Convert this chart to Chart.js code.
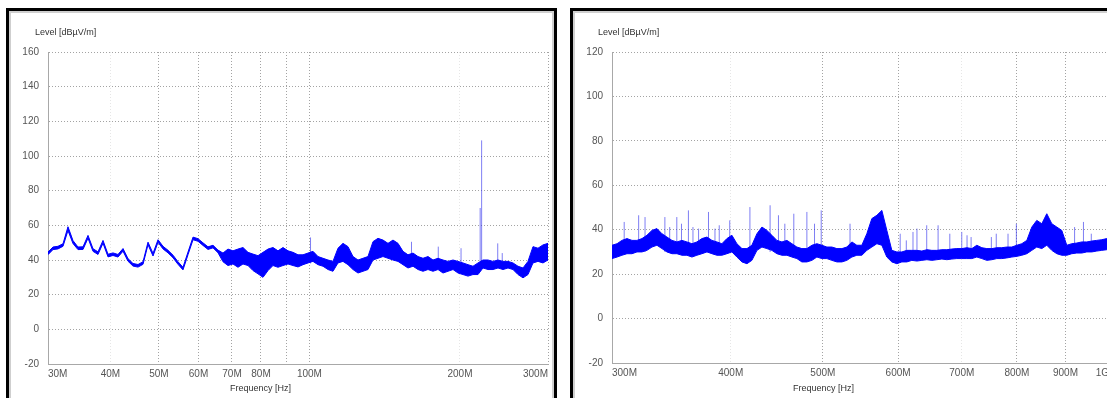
<!DOCTYPE html>
<html>
<head>
<meta charset="utf-8">
<script src="https://cdn.jsdelivr.net/npm/chart.js@4"></script>
<style>
body{margin:0;width:1107px;height:398px;overflow:hidden;background:#fff;font-family:"Liberation Sans",Arial,sans-serif}
.panel{position:absolute;top:8px;height:420px;border:3px solid #000;box-shadow:inset 0 0 0 2px #cfcfcf;background:#fff}
#leftPanel{left:6px;width:545px}
#rightPanel{left:570px;width:600px}
.panel canvas{position:absolute;left:0;top:0}
.lbl{position:absolute;font-size:9px;color:#333;white-space:nowrap;line-height:10px}
</style>
</head>
<body>
<div class="panel" id="leftPanel">
	<canvas id="leftChart" width="545" height="387"></canvas>
	<span class="lbl" style="left:26px;top:16px">Level [dBµV/m]</span>
	<span class="lbl" style="left:221px;top:372px">Frequency [Hz]</span>
</div>
<div class="panel" id="rightPanel">
	<canvas id="rightChart" width="580" height="387"></canvas>
	<span class="lbl" style="left:25px;top:16px">Level [dBµV/m]</span>
	<span class="lbl" style="left:220px;top:372px">Frequency [Hz]</span>
</div>
<script>
//левый график 30M - 300M (частота в МГц)
let leftFreq = [30.0,30.7,31.41,32.15,32.89,33.66,34.44,35.25,36.07,36.91,37.77,38.65,39.55,40.47,41.41,42.38,43.36,44.37,45.41,46.47,
	47.55,48.66,49.79,50.95,52.14,53.35,54.59,55.86,57.17,58.5,59.86,61.25,62.68,64.14,65.63,67.16,68.72,70.32,71.96,73.64,
	75.36,77.11,78.91,80.75,82.63,84.55,86.52,88.53,90.6,92.71,94.87,97.08,99.34,101.65,104.02,106.44,108.92,111.46,114.05,116.71,
	119.43,122.21,125.06,127.97,130.95,134.0,137.12,140.32,143.59,146.93,150.35,153.86,157.44,161.11,164.86,168.7,172.63,176.65,180.77,184.98,
	189.29,193.7,198.21,202.82,207.55,212.38,217.33,222.39,227.57,232.87,238.3,243.85,249.53,255.34,261.29,267.37,273.6,279.97,286.49,293.17,300.0];
//верх и низ полосы шума, dBµV/m
let leftHi = [44.6,47.5,47.9,49.4,59.2,51.2,47.5,47.6,54.2,46.5,44.7,51.3,43.3,44.1,43.2,46.6,40.8,38.0,37.4,39.0,
	50.3,43.8,51.7,47.9,45.6,42.8,39.0,35.8,44.6,53.2,52.3,49.9,47.6,48.5,45.7,44.0,46.3,45.3,46.3,47.2,
	44.4,43.4,42.5,44.4,46.3,47.2,45.3,47.2,45.3,44.4,43.0,43.0,44.0,45.0,42.0,41.0,40.0,39.2,46.8,49.6,
	47.7,42.0,40.0,41.0,42.0,50.6,52.5,51.5,49.6,51.5,49.6,45.0,43.0,44.0,42.0,41.0,42.0,40.0,41.0,40.0,
	39.2,40.0,39.2,38.3,37.3,36.4,38.3,40.0,40.0,39.2,40.0,39.2,39.2,38.3,36.4,35.4,39.2,47.7,46.8,48.7,49.6];
let leftLo = [43.1,46.0,46.4,47.9,57.0,49.5,46.0,46.1,52.6,45.0,43.2,49.7,41.8,42.6,41.7,45.1,39.3,36.5,35.9,37.5,
	48.8,42.3,50.2,46.4,44.1,41.3,37.5,34.3,43.1,51.7,50.8,48.4,46.1,47.0,44.2,39.0,36.8,37.7,35.8,37.7,
	36.8,33.9,32.0,30.0,33.9,36.8,35.8,36.8,37.7,36.8,36.0,37.3,38.3,39.2,37.3,36.4,34.5,33.5,38.3,39.2,
	37.3,34.5,32.5,33.5,34.5,40.0,41.0,42.0,41.0,40.0,39.2,37.3,35.4,36.4,34.5,33.5,34.5,33.5,34.5,32.5,
	33.5,34.5,32.5,31.6,30.7,31.6,31.6,35.4,34.5,34.5,35.4,34.5,35.4,34.5,31.6,29.7,31.6,38.3,39.2,38.3,40.0];
//одиночные выбросы
let leftSpikeFreq = [100.5,160,181,201,219.5,221,238,243];
let leftSpikeTop = [53,50.5,47.7,46.8,70,109,49.6,44];
let leftSpikeFloor = 38;
let leftTicks = [30,40,50,60,70,80,90,100,200,300];
let leftTickLabels = ['30M','40M','50M','60M','70M','80M','','100M','200M','300M'];
let leftFaint = [40,200];

//правый график 300M - 1G
let rightFreq = [300.0,303.7,307.3,311.1,314.9,318.7,322.6,326.5,330.5,334.5,338.6,342.7,346.9,351.1,355.4,359.7,364.1,368.5,373.0,377.6,
	382.2,386.8,391.5,396.3,401.1,406.0,411.0,416.0,421.0,426.2,431.4,436.6,441.9,447.3,452.8,458.3,463.9,469.5,475.2,481.0,
	486.9,492.8,498.8,504.9,511.0,517.3,523.6,529.9,536.4,542.9,549.5,556.2,563.0,569.9,576.8,583.8,590.9,598.1,605.4,612.8,
	620.3,627.9,635.5,643.3,651.1,659.0,667.1,675.2,683.4,691.7,700.1,708.7,717.3,726.0,734.9,743.8,752.9,762.1,771.3,780.7,
	790.2,799.9,809.6,819.5,829.5,839.5,849.8,860.1,870.6,881.2,891.9,902.8,913.8,924.9,936.2,947.6,959.2,970.9,982.7,994.7,1000];
let rightHi = [33.0,33.7,35.2,36.0,35.2,35.2,36.0,37.5,39.7,40.5,38.2,36.7,35.2,34.5,35.2,34.5,33.7,34.5,36.0,36.7,
	35.2,34.5,33.7,36.0,37.5,33.7,31.5,31.5,33.0,38.2,41.2,39.7,37.5,35.2,34.5,35.2,33.7,32.2,31.5,31.5,
	33.0,33.7,33.0,32.2,32.2,31.5,31.5,32.2,34.5,33.0,33.0,38.2,45.0,46.5,48.7,39.7,30.7,30.0,30.0,30.7,
	30.7,30.7,30.4,31.0,30.7,30.7,31.0,31.0,31.3,31.5,31.5,31.9,31.5,33.0,31.9,31.5,31.5,31.9,31.9,32.2,
	32.2,33.0,33.7,35.2,41.2,44.2,42.7,47.2,42.7,41.2,39.7,33.0,33.7,34.0,34.5,34.5,34.9,35.2,35.5,36.0,36.0];
let rightLo = [27.0,27.7,28.5,29.2,29.2,30.0,30.0,30.7,32.2,33.0,31.5,30.0,29.2,29.2,28.5,28.5,27.7,28.5,29.2,30.0,
	29.2,28.5,28.5,29.2,30.0,27.7,25.5,24.7,26.2,30.7,32.2,31.5,30.7,29.2,28.5,28.5,27.7,27.0,25.5,25.5,
	26.2,27.7,27.0,27.0,26.2,25.5,25.5,26.2,27.7,28.5,28.5,30.7,32.2,33.7,33.0,27.7,25.5,24.7,25.5,25.5,
	26.2,25.9,26.2,26.5,26.2,26.5,26.8,26.5,26.8,27.0,27.0,27.0,27.0,27.7,27.0,26.2,26.5,27.0,27.0,27.3,
	27.7,28.0,28.5,29.2,30.7,32.2,31.5,33.0,30.7,29.2,28.5,28.5,29.2,29.5,29.5,30.0,30.0,30.4,30.7,31.0,31.0];
let rightSpikeFreq = [309,320,325,341,345,351,355,361,365,370,379,385,389,399,419,440,449,456,466,481,
	490,498,534,603,612,622,628,643,661,680,700,709,716,752,761,783,799,920,940,958];
let rightSpikeTop = [43.5,46.5,45.7,45.7,41.2,45.7,42.7,48.7,41.2,40.5,48,40.5,42,44.2,50.2,51,46.5,42.7,47.2,48,
	42.7,48.7,42.7,38.2,35.2,39,40.5,42,42,38.2,39,37.5,36.7,36.7,38.2,38.2,42.7,41.2,43.5,38.2];
let rightSpikeFloor = 30;
let rightTicks = [300,400,500,600,700,800,900,1000];
let rightTickLabels = ['300M','400M','500M','600M','700M','800M','900M','1G'];
let rightFaint = [400,700];

function toPoints(xs, ys) {
	return xs.map(function (x, i) { return {x: x, y: ys[i]}; });
}

//каждый выброс - вертикальный отрезок, null разрывает линию
function spikePoints(xs, tops, floor) {
	let pts = [];
	xs.forEach(function (x, i) {
		pts.push({x: x, y: floor}, {x: x, y: tops[i]}, {x: x, y: null});
	});
	return pts;
}

function makeChart(id, s) {
	let tickFont = {family: 'Liberation Sans', size: 10};
	return new Chart(document.getElementById(id), {
		type: 'line',
		data: {
			datasets: [
				{data: toPoints(s.freq, s.hi), borderColor: '#0000ff', borderWidth: 1, pointRadius: 0, fill: false},
				{data: toPoints(s.freq, s.lo), borderColor: '#0000ff', borderWidth: 1, pointRadius: 0, fill: '-1', backgroundColor: '#0000ff'},
				{data: spikePoints(s.spikeFreq, s.spikeTop, s.floor), borderColor: 'rgba(40,40,235,0.6)', borderWidth: 1, pointRadius: 0, fill: false, spanGaps: false}
			]
		},
		options: {
			responsive: false,
			animation: false,
			events: [],
			layout: {autoPadding: false, padding: {top: 41, right: s.padRight, left: 0, bottom: 0}},
			plugins: {legend: {display: false}, tooltip: {enabled: false}},
			scales: {
				x: {
					type: 'logarithmic',
					min: s.ticks[0],
					max: s.ticks[s.ticks.length - 1],
					afterBuildTicks: function (scale) {
						scale.ticks = s.ticks.map(function (v) { return {value: v}; });
					},
					afterFit: function (scale) { scale.height = s.xHeight; },
					grid: {
						drawTicks: false,
						color: function (c) {
							if (c.tick && s.faint.indexOf(c.tick.value) >= 0) return '#e6e6e6';
							return '#a3a3a3';
						}
					},
					border: {display: true, color: '#a8a8a8', dash: [1, 2]},
					ticks: {
						align: 'inner', padding: 4, autoSkip: false, maxRotation: 0, minRotation: 0,
						font: tickFont, color: '#555',
						callback: function (v) {
							let i = s.ticks.indexOf(v);
							return i >= 0 ? s.tickLabels[i] : '';
						}
					}
				},
				y: {
					min: -20,
					max: s.yMax,
					afterFit: function (scale) { scale.width = 39; },
					grid: {drawTicks: false, color: '#a3a3a3'},
					border: {display: true, color: '#a8a8a8', dash: [1, 2]},
					ticks: {stepSize: 20, padding: 9, font: tickFont, color: '#555'}
				}
			}
		}
	});
}

let leftChart = makeChart('leftChart', {
	freq: leftFreq, hi: leftHi, lo: leftLo,
	spikeFreq: leftSpikeFreq, spikeTop: leftSpikeTop, floor: leftSpikeFloor,
	ticks: leftTicks, tickLabels: leftTickLabels, faint: leftFaint,
	yMax: 160, padRight: 6, xHeight: 34
});

let rightChart = makeChart('rightChart', {
	freq: rightFreq, hi: rightHi, lo: rightLo,
	spikeFreq: rightSpikeFreq, spikeTop: rightSpikeTop, floor: rightSpikeFloor,
	ticks: rightTicks, tickLabels: rightTickLabels, faint: rightFaint,
	yMax: 120, padRight: 44, xHeight: 35
});
</script>
</body>
</html>
